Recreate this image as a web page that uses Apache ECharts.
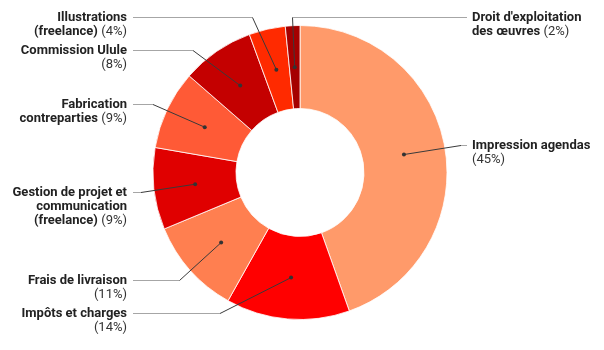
<!DOCTYPE html>
<html><head><meta charset="utf-8">
<script src="https://cdn.jsdelivr.net/npm/echarts@6/dist/echarts.min.js"></script>
<style>html,body{margin:0;padding:0;background:#fff}#c{width:604px;height:350px}</style>
</head><body><div id="c"></div>
<script>
// ---- data ----
const categories = [
  "Impression agendas",
  "Impôts et charges",
  "Frais de livraison",
  "Gestion de projet et\ncommunication\n(freelance)",
  "Fabrication\ncontreparties",
  "Commission Ulule",
  "Illustrations\n(freelance)",
  "Droit d'exploitation\ndes œuvres"
];
const values = [44.6, 13.6, 10.6, 9.0, 8.7, 8.0, 4.0, 1.6];
const colors = ['#ff9a6a', '#ff0000', '#ff7f50', '#e00000', '#ff5a36', '#c40000', '#ff2a00', '#a50000'];

// ---- layout (positions of annotations only) ----
const CX = 300, CY = 172.5, R_OUT = 147, R_IN = 64, R_MID = (R_OUT + R_IN) / 2;
const LEFT_TEXT_X = 127, LEFT_LINE_X = 133, RIGHT_TEXT_X = 472, RIGHT_LINE_X = 467;
const layoutCfg = [
  {side: 'right', y: 145.5, knee: [461, 145.5], pctOwnLine: true},
  {side: 'left',  y: 313.5, knee: [220, 313.5], pctOwnLine: true},
  {side: 'left',  y: 280.5, knee: [179.5, 280.5], pctOwnLine: true},
  {side: 'left',  y: 192.5, knee: [141, 192.5], pctOwnLine: false},
  {side: 'left',  y: 104.5, knee: [153, 104.5], pctOwnLine: false},
  {side: 'left',  y: 50.5,  knee: [193, 50.5], pctOwnLine: true},
  {side: 'left',  y: 17.5,  knee: [252.5, 17.5], pctOwnLine: false},
  {side: 'right', y: 17.5,  knee: [292.5, 17.5], pctOwnLine: false}
];

const total = values.reduce((a, b) => a + b, 0);
const pct = values.map(v => Math.round(v / total * 100));

function dotPos(i) {
  let cum = 0;
  for (let k = 0; k < i; k++) cum += values[k];
  const a = (cum + values[i] / 2) / total * Math.PI * 2;
  return [CX + R_MID * Math.sin(a), CY - R_MID * Math.cos(a)];
}

const FONT = 'Roboto, "Noto Sans", sans-serif';
const LH = 14;
const chart = echarts.init(document.getElementById('c'), null, {renderer: 'canvas'});

chart.setOption({
  animation: false,
  backgroundColor: '#fff',
  series: [
    {
      type: 'pie',
      center: [CX, CY],
      radius: [R_IN, R_OUT],
      startAngle: 90,
      clockwise: true,
      avoidLabelOverlap: false,
      silent: true,
      itemStyle: {borderColor: '#ffffff', borderWidth: 0.8},
      label: {
        show: true,
        position: 'outside',
        formatter: p => '{n|' + categories[p.dataIndex] + '}' +
          (layoutCfg[p.dataIndex].pctOwnLine ? '\n' : ' ') + '{p|(' + pct[p.dataIndex] + '%)}',
        rich: {
          n: {fontFamily: FONT, fontWeight: 'bold', fontSize: 13, color: '#222', lineHeight: LH},
          p: {fontFamily: FONT, fontWeight: 'normal', fontSize: 13, color: '#333', lineHeight: LH}
        }
      },
      labelLine: {show: true, length: 10, length2: 10, lineStyle: {color: '#a6a6a6', width: 1}},
      labelLayout: function (p) {
        const c = layoutCfg[p.dataIndex];
        const left = c.side === 'left';
        return {
          x: left ? LEFT_TEXT_X : RIGHT_TEXT_X,
          y: c.y - LH / 2,
          align: left ? 'right' : 'left',
          verticalAlign: 'top',
          labelLinePoints: left ? [[LEFT_LINE_X, c.y], c.knee] : [c.knee, [RIGHT_LINE_X, c.y]]
        };
      },
      data: categories.map((name, i) => ({
        name: name, value: values[i],
        itemStyle: {color: colors[i]},
        label: {align: layoutCfg[i].side === 'left' ? 'right' : 'left'}
      }))
    },
    {
      type: 'pie',
      z: 5,
      center: [CX, CY],
      radius: [0, R_MID],
      startAngle: 90,
      clockwise: true,
      avoidLabelOverlap: false,
      silent: true,
      itemStyle: {color: 'rgba(0,0,0,0)', borderWidth: 0},
      emphasis: {disabled: true},
      label: {
        show: true,
        position: 'outside',
        formatter: '{d| }',
        rich: {d: {width: 4, height: 4, borderRadius: 2, backgroundColor: '#333', fontSize: 1, lineHeight: 4}}
      },
      labelLine: {show: true, length: 10, length2: 10, lineStyle: {color: '#3a3a3a', width: 1}},
      labelLayout: function (p) {
        const c = layoutCfg[p.dataIndex];
        const d = dotPos(p.dataIndex);
        return {
          x: d[0], y: d[1], align: 'center', verticalAlign: 'middle',
          labelLinePoints: [d, c.knee]
        };
      },
      data: categories.map((name, i) => ({name: name, value: values[i]}))
    }
  ]
});
</script>
</body></html>
